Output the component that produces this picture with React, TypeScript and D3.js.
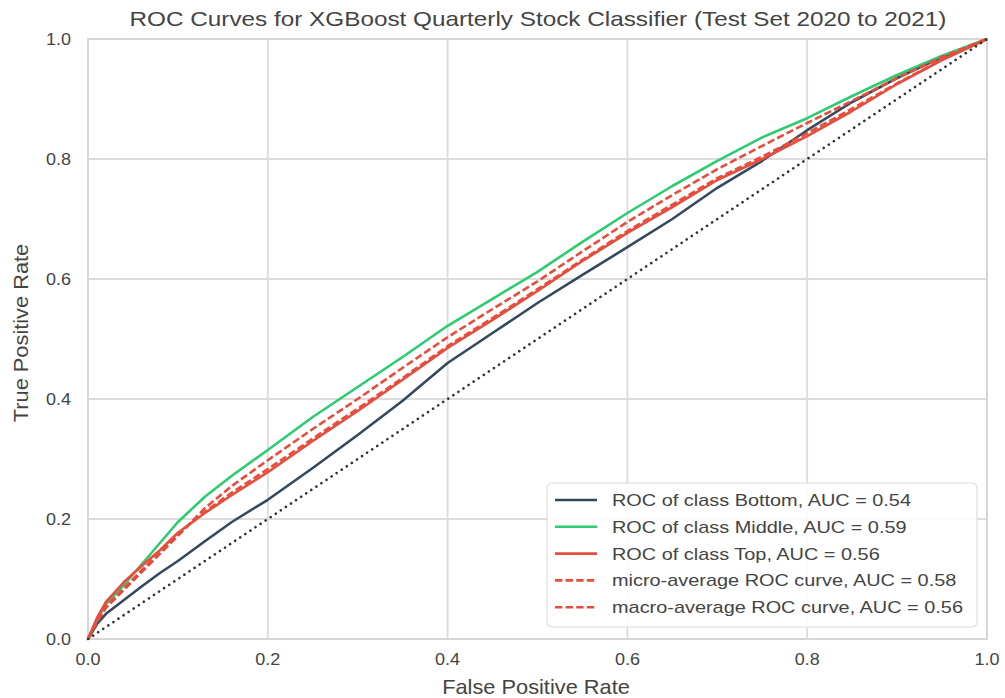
import React from "react";
import * as d3 from "d3";

const fpr = [0, 0.01, 0.02, 0.04, 0.06, 0.08, 0.10, 0.13, 0.16, 0.20, 0.25, 0.30, 0.35, 0.40, 0.45, 0.50, 0.55, 0.60, 0.65, 0.70, 0.75, 0.80, 0.85, 0.90, 0.95, 1.0];
const tprBottom = [0, 0.025, 0.042, 0.065, 0.088, 0.11, 0.13, 0.163, 0.195, 0.232, 0.285, 0.34, 0.397, 0.46, 0.51, 0.56, 0.607, 0.653, 0.70, 0.752, 0.797, 0.848, 0.895, 0.935, 0.97, 1.0];
const tprMiddle = [0, 0.032, 0.058, 0.09, 0.125, 0.16, 0.195, 0.237, 0.272, 0.315, 0.37, 0.42, 0.47, 0.522, 0.567, 0.612, 0.662, 0.71, 0.755, 0.797, 0.836, 0.868, 0.905, 0.94, 0.972, 1.0];
const tprTop = [0, 0.035, 0.062, 0.095, 0.122, 0.148, 0.177, 0.21, 0.24, 0.278, 0.33, 0.38, 0.432, 0.485, 0.532, 0.58, 0.63, 0.677, 0.72, 0.765, 0.80, 0.838, 0.88, 0.925, 0.965, 1.0];
const tprMicro = [0, 0.028, 0.052, 0.082, 0.112, 0.142, 0.172, 0.218, 0.255, 0.298, 0.35, 0.40, 0.452, 0.503, 0.55, 0.596, 0.646, 0.695, 0.74, 0.783, 0.822, 0.86, 0.897, 0.935, 0.97, 1.0];
const tprMacro = [0, 0.03, 0.054, 0.085, 0.115, 0.145, 0.175, 0.212, 0.244, 0.283, 0.334, 0.384, 0.435, 0.488, 0.535, 0.583, 0.632, 0.68, 0.724, 0.768, 0.804, 0.843, 0.884, 0.926, 0.966, 1.0];

const seriesLabels = [
  "ROC of class Bottom, AUC = 0.54",
  "ROC of class Middle, AUC = 0.59",
  "ROC of class Top, AUC = 0.56",
  "micro-average ROC curve, AUC = 0.58",
  "macro-average ROC curve, AUC = 0.56",
];
const seriesColors = ["#34495e", "#2ecc71", "#e74c3c", "#e74c3c", "#e74c3c"];
const seriesDash = [null, null, null, "7.4,3.2", "7.4,3.2"];
const seriesData = [tprBottom, tprMiddle, tprTop, tprMicro, tprMacro];

const ticks = [0, 0.2, 0.4, 0.6, 0.8, 1.0];
const tickLabels = ["0.0", "0.2", "0.4", "0.6", "0.8", "1.0"];

const W = 1005, H = 698;
const L = 88, R = 987, T = 39, B = 639;
const FONT = "'Liberation Sans', Arial, sans-serif";

export default function App() {
  const x = d3.scaleLinear().domain([0, 1]).range([L, R]);
  const y = d3.scaleLinear().domain([0, 1]).range([B, T]);
  const line = d3.line<number>().x((_, i) => x(fpr[i])).y((d) => y(d));

  const legX = 547, legY = 483, legW = 430, legH = 144;
  const rowY = (i: number) => 500 + i * 26.8;

  return (
    <svg width={W} height={H} style={{ position: "absolute", left: 0, top: 0, background: "#fff" }} fontFamily={FONT}>
      <rect x={0} y={0} width={W} height={H} fill="#fff" />
      {ticks.map((t, i) => (
        <g key={"g" + i}>
          <line x1={x(t)} x2={x(t)} y1={T} y2={B} stroke="#dcdcdc" strokeWidth={1.8} />
          <line x1={L} x2={R} y1={y(t)} y2={y(t)} stroke="#dcdcdc" strokeWidth={1.8} />
        </g>
      ))}
      <rect x={L} y={T} width={R - L} height={B - T} fill="none" stroke="#d5d5d5" strokeWidth={1.8} />
      {ticks.map((t, i) => (
        <g key={"t" + i} fontSize={17} fill="#444">
          <text transform={`translate(${x(t)},${B + 26}) scale(1.06,1)`} textAnchor="middle">{tickLabels[i]}</text>
          <text transform={`translate(71,${y(t) + 6}) scale(1.06,1)`} textAnchor="end">{tickLabels[i]}</text>
        </g>
      ))}
      {seriesData.map((s, i) => (
        <path key={"s" + i} d={line(s) || ""} fill="none" stroke={seriesColors[i]} strokeWidth={2.6}
          strokeDasharray={seriesDash[i] || undefined} strokeLinejoin="round" />
      ))}
      <line x1={x(0)} y1={y(0)} x2={x(1)} y2={y(1)} stroke="#333" strokeWidth={2.6} strokeDasharray="0.1,6" strokeLinecap="round" />
      <text transform={`translate(538,26) scale(1.215,1)`} textAnchor="middle" fontSize={20} fill="#444">
        ROC Curves for XGBoost Quarterly Stock Classifier (Test Set 2020 to 2021)
      </text>
      <text transform={`translate(536,694) scale(1.09,1)`} textAnchor="middle" fontSize={20} fill="#444">False Positive Rate</text>
      <text transform={`translate(28,${(T + B) / 2 - 6}) rotate(-90) scale(1.09,1)`} textAnchor="middle" fontSize={20} fill="#444">True Positive Rate</text>
      <rect x={legX} y={legY} width={legW} height={legH} rx={5} fill="#fff" fillOpacity={0.85} stroke="#dedede" strokeWidth={1.2} />
      {seriesLabels.map((lab, i) => (
        <g key={"l" + i}>
          <line x1={555} x2={597} y1={rowY(i)} y2={rowY(i)} stroke={seriesColors[i]} strokeWidth={2.6}
            strokeDasharray={seriesDash[i] || undefined} />
          <text transform={`translate(612,${rowY(i) + 6}) scale(1.17,1)`} fontSize={17} fill="#444">{lab}</text>
        </g>
      ))}
    </svg>
  );
}
